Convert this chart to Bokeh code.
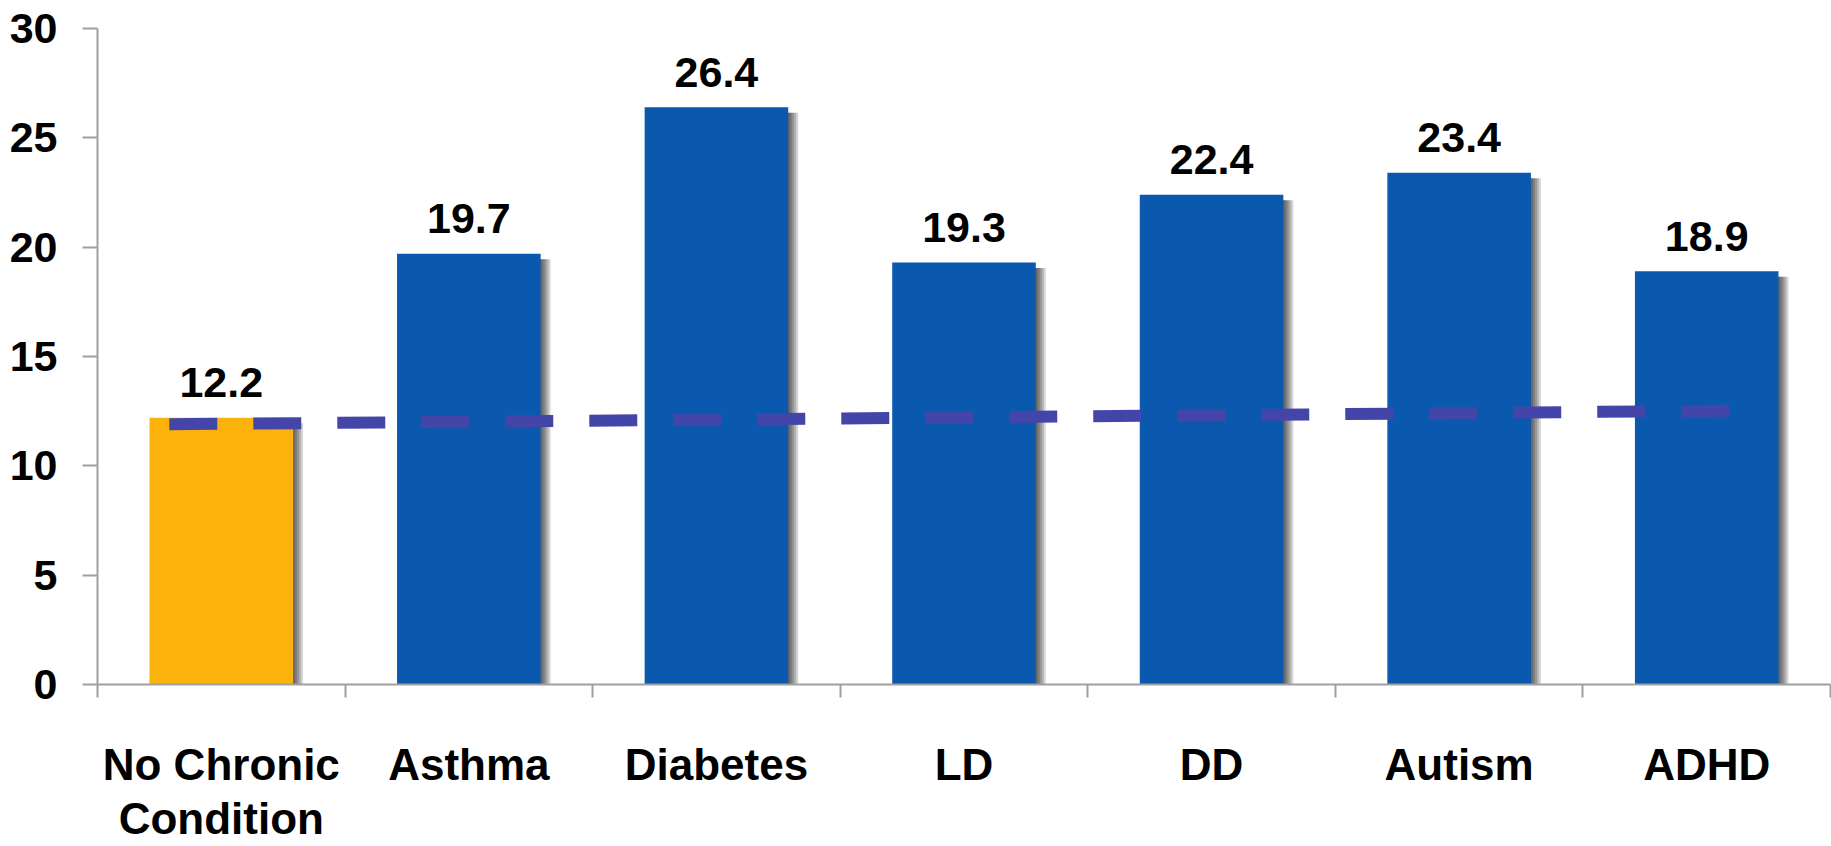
import numpy as np
from bokeh.plotting import figure
from bokeh.models import Range1d, FixedTicker, ColumnDataSource
from bokeh.core.properties import value
from bokeh.embed import file_html
from bokeh.resources import INLINE

# ---- data ----
categories = ["No Chronic\nCondition", "Asthma", "Diabetes", "LD", "DD", "Autism", "ADHD"]
values = [12.2, 19.7, 26.4, 19.3, 22.4, 23.4, 18.9]
bar_colors = ["#FBB20A", "#0B59AF", "#0B59AF", "#0B59AF", "#0B59AF", "#0B59AF", "#0B59AF"]
value_labels = ["12.2", "19.7", "26.4", "19.3", "22.4", "23.4", "18.9"]
y_ticks = [0, 5, 10, 15, 20, 25, 30]
# reference (dashed) line: start / end in category units and value units
ref_x = [0.29, 6.59]
ref_y = [11.9, 12.52]

W, H = 1831, 846
LEFT, RIGHT, TOP, BOTTOM = 97, 1, 28, 159
n = len(categories)
xs = np.arange(n) + 0.5
unit_per_px = n / (W - LEFT - RIGHT)

p = figure(width=W, height=H, output_backend="svg", toolbar_location=None,
           x_range=Range1d(0, n), y_range=Range1d(0, 30),
           min_border_left=LEFT, min_border_right=RIGHT,
           min_border_top=TOP, min_border_bottom=BOTTOM)
p.outline_line_color = None
p.xgrid.visible = False
p.ygrid.visible = False
p.background_fill_color = "white"
p.border_fill_color = "white"

FONT = "Liberation Sans"

# bar shadows (soft, to the right)
for k in [2, 4, 6, 8, 10]:
    p.vbar(x=xs + k * unit_per_px, top=np.array(values) - 0.25, bottom=0, width=0.58,
           fill_color="black", fill_alpha=0.16, line_color=None)

src = ColumnDataSource(dict(x=xs, top=values, color=bar_colors, lab=value_labels))
p.vbar(x="x", top="top", bottom=0, width=0.58, fill_color="color", line_color=None, source=src)

# dashed reference line
p.line(x=ref_x, y=ref_y, line_color="#4346A8", line_width=12, line_dash="48 36", line_cap="butt")

# value labels
p.text(x="x", y="top", text="lab", source=src, text_font=value(FONT), text_font_style="bold",
       text_font_size="43px", text_align="center", text_baseline="alphabetic", y_offset=-35,
       text_color="black")

# axes
xa = p.xaxis[0]
xa.ticker = FixedTicker(ticks=list(xs), minor_ticks=list(range(n + 1)))
xa.major_label_overrides = {float(x): c for x, c in zip(xs, categories)}
xa.major_tick_out = 0
xa.major_tick_in = 0
xa.minor_tick_out = 13
xa.minor_tick_in = 0
xa.minor_tick_line_color = "#A0A0A0"
xa.minor_tick_line_width = 2
xa.axis_line_color = "#A0A0A0"
xa.axis_line_width = 2
xa.major_label_text_font = FONT
xa.major_label_text_font_style = "bold"
xa.major_label_text_font_size = "44px"
xa.major_label_text_color = "black"
xa.major_label_standoff = 42
xa.major_label_text_line_height = 1.12

ya = p.yaxis[0]
ya.ticker = FixedTicker(ticks=y_ticks)
ya.major_tick_out = 15
ya.major_tick_in = 0
ya.minor_tick_out = 0
ya.minor_tick_in = 0
ya.major_tick_line_color = "#A0A0A0"
ya.major_tick_line_width = 2
ya.axis_line_color = "#A0A0A0"
ya.axis_line_width = 2
ya.major_label_text_font = FONT
ya.major_label_text_font_style = "bold"
ya.major_label_text_font_size = "43px"
ya.major_label_text_color = "black"
ya.major_label_standoff = 25

open("out.html", "w").write(file_html(p, INLINE))
